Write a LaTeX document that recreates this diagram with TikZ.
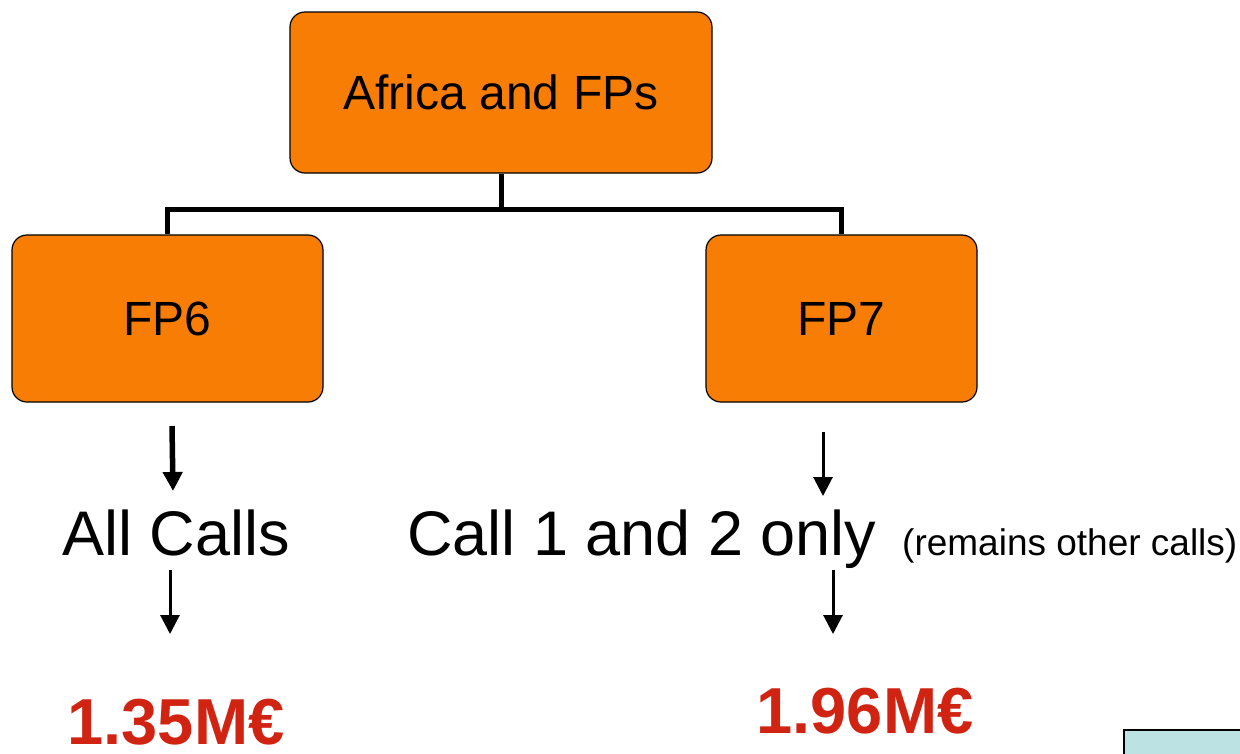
\documentclass[tikz,border=0pt]{standalone}
\usepackage{fontspec}
\setmainfont{Liberation Sans}
\usetikzlibrary{arrows.meta,positioning}

\definecolor{boxorange}{RGB}{248,125,5}
\definecolor{sumred}{RGB}{208,35,18}
\definecolor{notecyan}{RGB}{189,226,227}

\tikzset{
  fpbox/.style={draw=black,line width=1.2pt,fill=boxorange,rounded corners=15pt,
    inner sep=0pt,font=\fontsize{48}{58}\selectfont},
  tree/.style={line width=5pt},
  bigtxt/.style={inner sep=0pt,anchor=base,font=\fontsize{63}{75}\selectfont},
  sumtxt/.style={inner sep=0pt,anchor=base,text=sumred,font=\fontsize{65}{78}\bfseries\selectfont},
  arr/.style={line width=3pt,-{Triangle[width=19pt,length=19pt]}}
}

\begin{document}
\begin{tikzpicture}[x=1pt,y=-1pt]
\useasboundingbox (0,0) rectangle (1240,753);
\clip (0,0) rectangle (1240,753);

%% the three boxes
\node[fpbox,minimum width=422pt,minimum height=161pt] (root) at (501,92.5) {Africa and FPs};
\node[fpbox,minimum width=311pt,minimum height=167pt] (fpsix) at (167.5,318.5) {FP6};
\node[fpbox,minimum width=271pt,minimum height=167pt] (fpseven) at (841.5,318.5) {FP7};

%% tree lines
\draw[tree] (root.south) -- ++(0,36) coordinate (fork);
\draw[tree] (fork) -| (fpsix.north);
\draw[tree] (fork) -| (fpseven.north);

%% texts under the boxes
\node[bigtxt] (allcalls) at (176,555) {All Calls};
\node[bigtxt,anchor=base west] (calltwo) at (407,555) {Call 1 and 2 only};
\node[inner sep=0pt,anchor=base west,font=\fontsize{37}{44}\selectfont] (remains) at (902,555) {(remains other calls)};
\node[sumtxt] (sumsix) at (176,744) {1.35M€};
\node[sumtxt] (sumseven) at (865,733) {1.96M€};

%% arrows
\coordinate (sixtop) at (172,426);
\coordinate (sixmid) at (173,491);
\coordinate (sixlow) at (170,570);
\coordinate (sixend) at (170,634);
\coordinate (seventop) at (823,432);
\coordinate (sevenmid) at (823,496);
\coordinate (sevenlow) at (833,570);
\coordinate (sevenend) at (833,634);
\draw[arr,line width=5.5pt] (sixtop) -- (sixmid);
\draw[arr] (sixlow) -- (sixend);
\draw[arr] (seventop) -- (sevenmid);
\draw[arr] (sevenlow) -- (sevenend);

% corner of the note box
\draw[line width=2.5pt,fill=notecyan] (1124,730) rectangle (1270,790);
\end{tikzpicture}
\end{document}
